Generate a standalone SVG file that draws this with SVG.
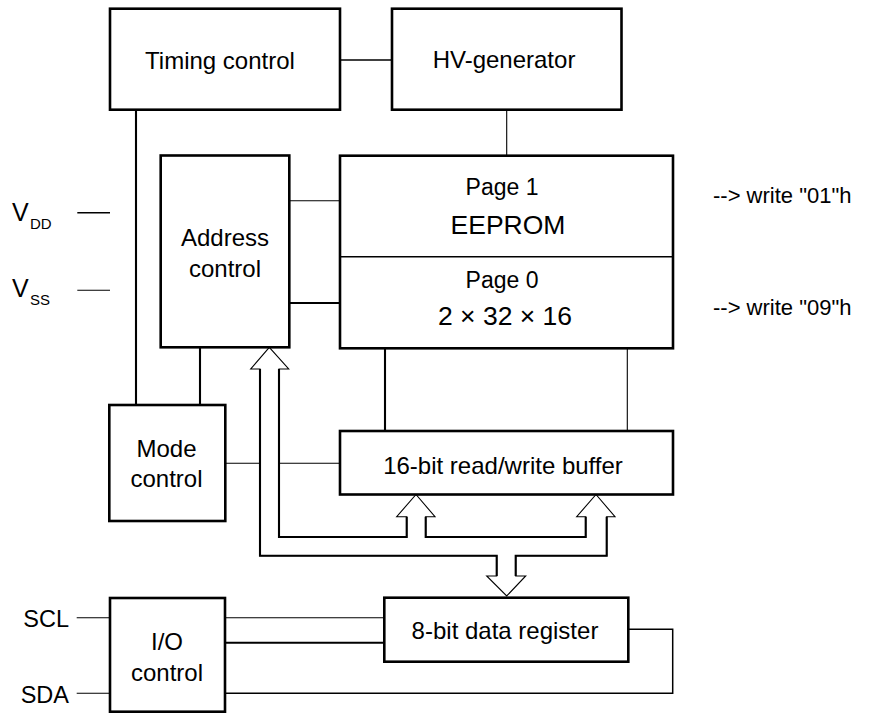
<svg xmlns="http://www.w3.org/2000/svg" width="873" height="713" viewBox="0 0 873 713">
<style>
  .box { fill: #fff; stroke: #000; stroke-width: 2.6; }
  .lbl { font-family: "Liberation Sans", Arial, Helvetica, sans-serif; font-size: 24px; fill: #000; text-anchor: middle; }
  .pg { font-size: 23px; }
  .big { font-size: 26.5px; }
  .side { font-family: "Liberation Sans", Arial, Helvetica, sans-serif; font-size: 22px; fill: #000; }
  .pin { font-family: "Liberation Sans", Arial, Helvetica, sans-serif; font-size: 23.5px; fill: #000; text-anchor: end; }
  .vv { font-size: 25px; }
  .sub { font-size: 15px; }
  .w1 { stroke: #000; stroke-width: 1.1; fill: none; }
  .w15 { stroke: #000; stroke-width: 1.5; fill: none; }
  .w2 { stroke: #000; stroke-width: 2.1; fill: none; }
</style>
<rect width="873" height="713" fill="#fff"/>

<g id="connectors">
  <line class="w15" x1="341" y1="60" x2="392" y2="60"/>
  <line class="w2" x1="136" y1="110" x2="136" y2="405"/>
  <line class="w1" x1="506.7" y1="110" x2="506.7" y2="156"/>
  <line class="w1" x1="289.3" y1="200.7" x2="340" y2="200.7"/>
  <line class="w2" x1="289.3" y1="303" x2="340" y2="303"/>
  <line class="w15" x1="77.3" y1="212.7" x2="110" y2="212.7"/>
  <line class="w1" x1="77.3" y1="290.3" x2="110" y2="290.3"/>
  <line class="w2" x1="200" y1="347" x2="200" y2="405"/>
  <line class="w2" x1="385" y1="348" x2="385" y2="431"/>
  <line class="w1" x1="627.3" y1="348" x2="627.3" y2="431"/>
  <line class="w1" x1="225.3" y1="463.3" x2="260" y2="463.3"/>
  <line class="w1" x1="279" y1="463.3" x2="340" y2="463.3"/>
  <line class="w1" x1="76.7" y1="617.7" x2="110" y2="617.7"/>
  <line class="w1" x1="76.7" y1="693.3" x2="110" y2="693.3"/>
  <line class="w1" x1="225" y1="617.7" x2="384.3" y2="617.7"/>
  <line class="w2" x1="225" y1="642.7" x2="384.3" y2="642.7"/>
  <path class="w15" d="M628.3,629.3 H672.7 V693.3 H225"/>
  <!-- data bus with hollow arrows -->
  <path class="w1" d="M260,555.7 V369 H250.7 L269.3,347.3 L288.7,369 H279 V537 H406.7 V516.7 H396.7 L416,494.5 L435,516.7 H425.7 V537 H585.7 V516.7 H576.7 L596,494.5 L615,516.7 H606.7 V555.7 H515.7 V576 H525.7 L506.7,596 L486.7,576 H496.7 V555.7 Z"/>
  <path class="w2" d="M260,369 V555.7 H496.7 V576 M279,369 V537 H406.7 V516.7 M425.7,516.7 V537 H585.7 V516.7 M606.7,516.7 V555.7 H515.7 V576"/>
</g>

<g id="timing-control">
  <rect class="box" x="110" y="8.7" width="230" height="101"/>
  <text class="lbl" x="220" y="69">Timing control</text>
</g>
<g id="hv-generator">
  <rect class="box" x="392" y="8.7" width="229.5" height="101"/>
  <text class="lbl" x="504" y="68">HV-generator</text>
</g>
<g id="address-control">
  <rect class="box" x="160.7" y="155.5" width="128.6" height="191.8"/>
  <text class="lbl" x="225" y="245.7">Address</text>
  <text class="lbl" x="225" y="276.7">control</text>
</g>
<g id="eeprom">
  <rect class="box" x="340" y="155.7" width="333" height="192.6"/>
  <line class="w15" x1="340" y1="256.7" x2="673" y2="256.7"/>
  <text class="lbl pg" x="502" y="195">Page 1</text>
  <text class="lbl big" x="508" y="234">EEPROM</text>
  <text class="lbl pg" x="502" y="287.7">Page 0</text>
  <text class="lbl big" x="505" y="325">2 × 32 × 16</text>
</g>
<g id="page-notes">
  <text class="side" x="713" y="203.3">--&gt; write "01"h</text>
  <text class="side" x="713" y="315">--&gt; write "09"h</text>
</g>
<g id="supply">
  <text class="side vv" x="12" y="221">V</text>
  <text class="side sub" x="30" y="229">DD</text>
  <text class="side vv" x="12" y="297">V</text>
  <text class="side sub" x="30" y="305">SS</text>
</g>
<g id="mode-control">
  <rect class="box" x="109.3" y="405" width="116" height="116"/>
  <text class="lbl" x="166.5" y="456.7">Mode</text>
  <text class="lbl" x="166.5" y="487.3">control</text>
</g>
<g id="rw-buffer">
  <rect class="box" x="340" y="431" width="333" height="63.5"/>
  <text class="lbl" x="503" y="474">16-bit read/write buffer</text>
</g>
<g id="io-control">
  <rect class="box" x="110" y="598" width="115" height="113.7"/>
  <text class="lbl" x="167" y="650">I/O</text>
  <text class="lbl" x="167" y="680.7">control</text>
</g>
<g id="data-register">
  <rect class="box" x="384.3" y="597.7" width="244" height="64"/>
  <text class="lbl" x="505" y="639.3">8-bit data register</text>
</g>
<g id="pins">
  <text class="pin" x="69" y="626.7">SCL</text>
  <text class="pin" x="69" y="702.7">SDA</text>
</g>
</svg>
